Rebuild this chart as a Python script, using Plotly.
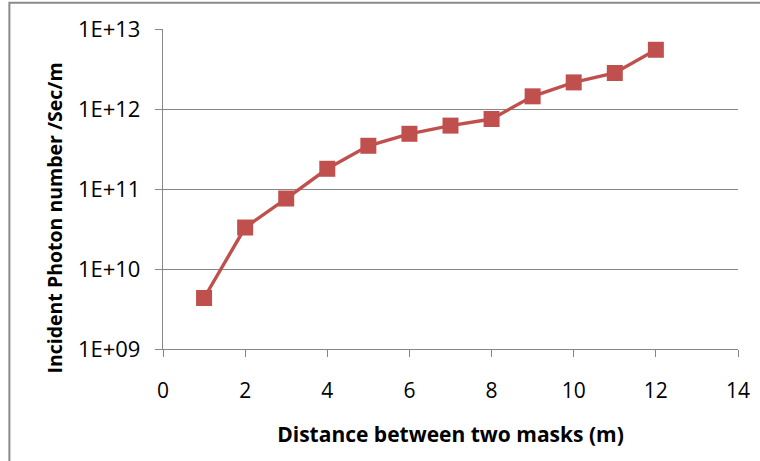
import plotly.graph_objects as go

distance_m = [1, 2, 3, 4, 5, 6, 7, 8, 9, 10, 11, 12]
photon_rate = [4.34e9, 3.3e10, 7.6e10, 1.79e11, 3.47e11, 4.9e11, 6.2e11, 7.5e11,
               1.44e12, 2.15e12, 2.82e12, 5.5e12]
x_ticks = [0, 2, 4, 6, 8, 10, 12, 14]
y_tickvals = [1e9, 1e10, 1e11, 1e12, 1e13]
y_ticktext = ["1E+09", "1E+10", "1E+11", "1E+12", "1E+13"]
y_title = "Incident Photon number /Sec/m"
x_title = "Distance between two masks (m)"

W, H = 760, 461
L, R, T, B = 162.7, 738.0, 29.3, 349.3
pw, ph = R - L, B - T

def px(x):
    return (x - L) / pw

def py(y):
    return (B - y) / ph

fig = go.Figure()
fig.add_trace(go.Scatter(
    x=distance_m, y=photon_rate, mode="lines+markers",
    line=dict(color="#C0504D", width=3.4),
    marker=dict(symbol="square", size=16, color="#C0504D"),
    showlegend=False, cliponaxis=False,
))

axis_col = "#868686"
fig.update_layout(
    width=W, height=H,
    margin=dict(l=L, r=W - R, t=T, b=H - B, autoexpand=False),
    paper_bgcolor="white", plot_bgcolor="white",
    font=dict(family="Open Sans", size=21, color="#000000"),
    xaxis=dict(
        range=[0, 14], tickvals=x_ticks, ticks="outside", ticklen=7,
        tickcolor=axis_col, showline=True, linecolor=axis_col, linewidth=1.3,
        showgrid=False, zeroline=False, tickfont=dict(size=21), automargin=False,
        ticklabelstandoff=16,
        title=dict(text="<b>" + x_title + "</b>", font=dict(size=21), standoff=23),
    ),
    yaxis=dict(
        type="log", range=[9, 13], tickvals=y_tickvals, ticktext=y_ticktext,
        ticks="outside", ticklen=7, tickcolor=axis_col,
        showline=True, linecolor=axis_col, linewidth=1.3,
        showgrid=True, gridcolor=axis_col, gridwidth=1.3, zeroline=False,
        tickfont=dict(size=22), automargin=False, ticklabelstandoff=10,
    ),
    annotations=[dict(text="<b>" + y_title + "</b>", xref="paper", yref="paper",
                      x=px(54), y=py(218.5), xanchor="center", yanchor="middle",
                      textangle=-90, showarrow=False, font=dict(size=19.5))],
    shapes=[dict(type="rect", xref="paper", yref="paper",
                 x0=px(9), x1=px(763), y0=py(466), y1=py(3),
                 line=dict(color="#8a8a8a", width=2), layer="below")],
)

fig.write_html("out.html", config={"displayModeBar": False},
               post_script="document.body.style.margin='0';document.body.style.padding='0';")
